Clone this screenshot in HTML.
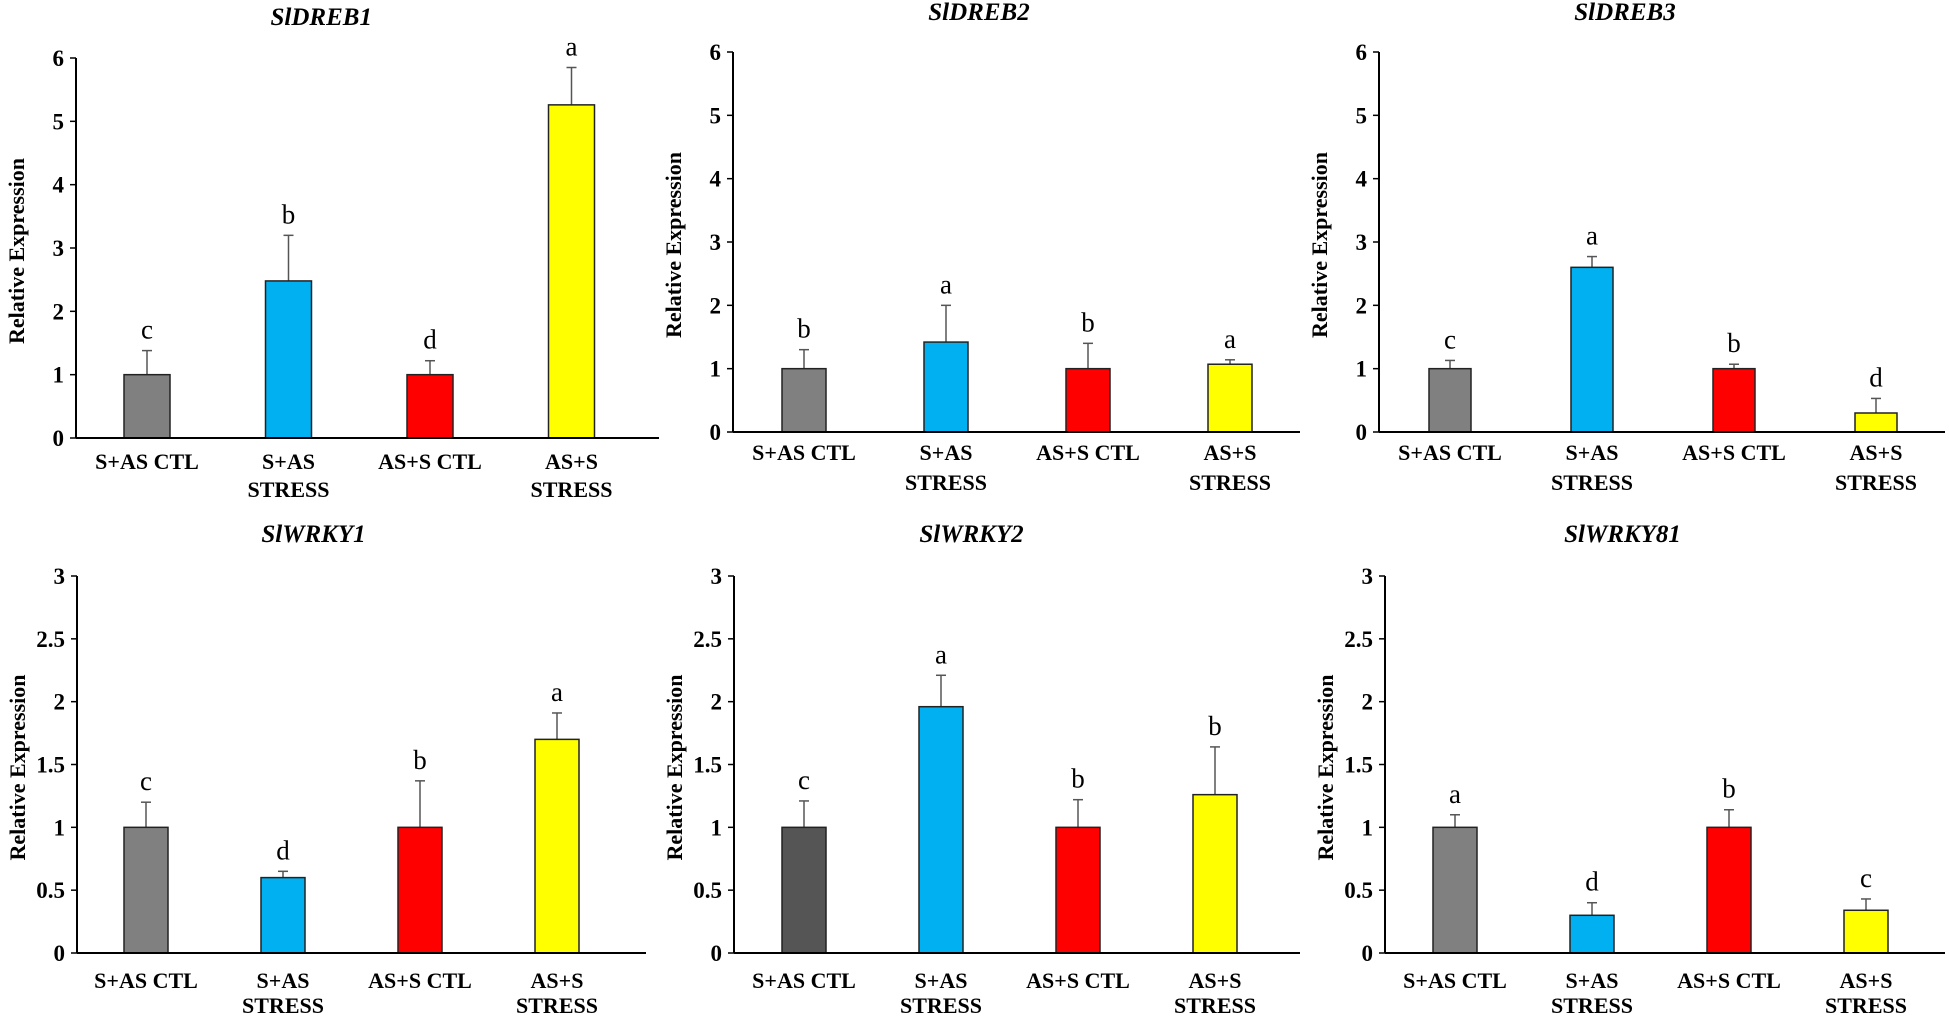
<!DOCTYPE html>
<html><head><meta charset="utf-8">
<style>
html,body{margin:0;padding:0;background:#fff;}
svg{display:block;font-family:"Liberation Serif",serif;}
</style></head>
<body>
<svg id="fig" width="1949" height="1017" viewBox="0 0 1949 1017" xmlns="http://www.w3.org/2000/svg"></svg>
<script>
const categories = ["S+AS CTL","S+AS STRESS","AS+S CTL","AS+S STRESS"];
const titles = ["SlDREB1","SlDREB2","SlDREB3","SlWRKY1","SlWRKY2","SlWRKY81"];
const dreb1Values = [1.0, 2.48, 1.0, 5.26];
const dreb1Errors = [0.38, 0.72, 0.22, 0.59];
const dreb1Letters = ["c","b","d","a"];
const dreb2Values = [1.0, 1.42, 1.0, 1.07];
const dreb2Errors = [0.30, 0.58, 0.40, 0.07];
const dreb2Letters = ["b","a","b","a"];
const dreb3Values = [1.0, 2.6, 1.0, 0.3];
const dreb3Errors = [0.13, 0.17, 0.07, 0.23];
const dreb3Letters = ["c","a","b","d"];
const wrky1Values = [1.0, 0.6, 1.0, 1.7];
const wrky1Errors = [0.20, 0.05, 0.37, 0.21];
const wrky1Letters = ["c","d","b","a"];
const wrky2Values = [1.0, 1.96, 1.0, 1.26];
const wrky2Errors = [0.21, 0.25, 0.22, 0.38];
const wrky2Letters = ["c","a","b","b"];
const wrky81Values = [1.0, 0.3, 1.0, 0.34];
const wrky81Errors = [0.10, 0.10, 0.14, 0.09];
const wrky81Letters = ["a","d","b","c"];
const ticksTop = [0,1,2,3,4,5,6];
const ticksBottom = [0,0.5,1,1.5,2,2.5,3];

const NS="http://www.w3.org/2000/svg";
const svg=document.getElementById('fig');
function mk(tag,attrs,parent){const e=document.createElementNS(NS,tag);for(const k in attrs)e.setAttribute(k,attrs[k]);(parent||svg).appendChild(e);return e;}

const panels=[
 {key:"dreb1",ax:76,zero:438,top:58,max:6,off:71,sp:141.5,w:46,end:659,ticks:ticksTop,vals:dreb1Values,errs:dreb1Errors,lets:dreb1Letters,title:titles[0],ty:25,l1:31,l2:59,c0:"#808080"},
 {key:"dreb2",ax:733,zero:432,top:52,max:6,off:71,sp:142,w:44,end:1300,ticks:ticksTop,vals:dreb2Values,errs:dreb2Errors,lets:dreb2Letters,title:titles[1],ty:20,l1:28,l2:58,c0:"#808080"},
 {key:"dreb3",ax:1379,zero:432,top:52,max:6,off:71,sp:142,w:42,end:1945,ticks:ticksTop,vals:dreb3Values,errs:dreb3Errors,lets:dreb3Letters,title:titles[2],ty:20,l1:28,l2:58,c0:"#808080"},
 {key:"wrky1",ax:77,zero:953,top:576,max:3,off:69,sp:137,w:44,end:646,ticks:ticksBottom,vals:wrky1Values,errs:wrky1Errors,lets:wrky1Letters,title:titles[3],ty:542,l1:35,l2:60,c0:"#808080"},
 {key:"wrky2",ax:734,zero:953,top:576,max:3,off:70,sp:137,w:44,end:1300,ticks:ticksBottom,vals:wrky2Values,errs:wrky2Errors,lets:wrky2Letters,title:titles[4],ty:542,l1:35,l2:60,c0:"#555555"},
 {key:"wrky81",ax:1385,zero:953,top:576,max:3,off:70,sp:137,w:44,end:1945,ticks:ticksBottom,vals:wrky81Values,errs:wrky81Errors,lets:wrky81Letters,title:titles[5],ty:542,l1:35,l2:60,c0:"#808080"}
];
const colors=[null,"#00b0f0","#ff0000","#ffff00"];

panels.forEach(p=>{
  const g=mk('g',{});
  
  
  const y=v=>p.zero-(v/p.max)*(p.zero-p.top);
  const x=i=>p.ax+p.off+i*p.sp;
  const t=mk('text',{x:(x(0)+x(3))/2-38,y:p.ty,'text-anchor':'middle','font-size':25,'font-weight':'bold','font-style':'italic'},g);
  t.textContent=p.title;
  
  
  const ya=mk('line',{x1:p.ax,y1:p.top,x2:p.ax,y2:p.zero,stroke:'#000','stroke-width':2},g);
  
  
  p.ticks.forEach(tv=>{
    const ty=y(tv);
    mk('line',{x1:p.ax-6,y1:ty,x2:p.ax,y2:ty,stroke:'#000','stroke-width':1.5},g);
    const tl=mk('text',{x:p.ax-12,y:ty+8,'text-anchor':'end','font-size':23,'font-weight':'bold'},g);
    tl.textContent=String(tv);
    
    
  });
  const yt=mk('text',{x:0,y:0,'text-anchor':'middle','font-size':22,'font-weight':'bold',transform:`translate(${p.ax-52},${(p.top+p.zero)/2+3}) rotate(-90)`},g);
  yt.textContent="Relative Expression";
  
  
  p.vals.forEach((v,i)=>{
    const cx=x(i);
    const top=y(v), et=y(v+p.errs[i]);
    mk('line',{x1:cx,y1:top,x2:cx,y2:et,stroke:'#555','stroke-width':1.5},g);
    mk('line',{x1:cx-5,y1:et,x2:cx+5,y2:et,stroke:'#555','stroke-width':1.5},g);
    const r=mk('rect',{x:cx-p.w/2,y:top,width:p.w,height:p.zero-top,fill:i===0?p.c0:colors[i],stroke:'#222','stroke-width':1.5},g);
    
    
    const lt=mk('text',{x:cx,y:et-12,'text-anchor':'middle','font-size':27},g);
    lt.textContent=p.lets[i];
    
    
    const parts=categories[i].includes('STRESS')?[categories[i].replace(' STRESS',''),'STRESS']:[categories[i]];
    parts.forEach((s,k)=>{
      const cl=mk('text',{x:cx,y:p.zero+(k===0?p.l1:p.l2),'text-anchor':'middle','font-size':22,'font-weight':'bold'},g);
      cl.textContent=s;
      
      
    });
  });
  const xa=mk('line',{x1:p.ax,y1:p.zero,x2:p.end,y2:p.zero,stroke:'#000','stroke-width':2},g);
  
  
});
</script>
</body></html>
